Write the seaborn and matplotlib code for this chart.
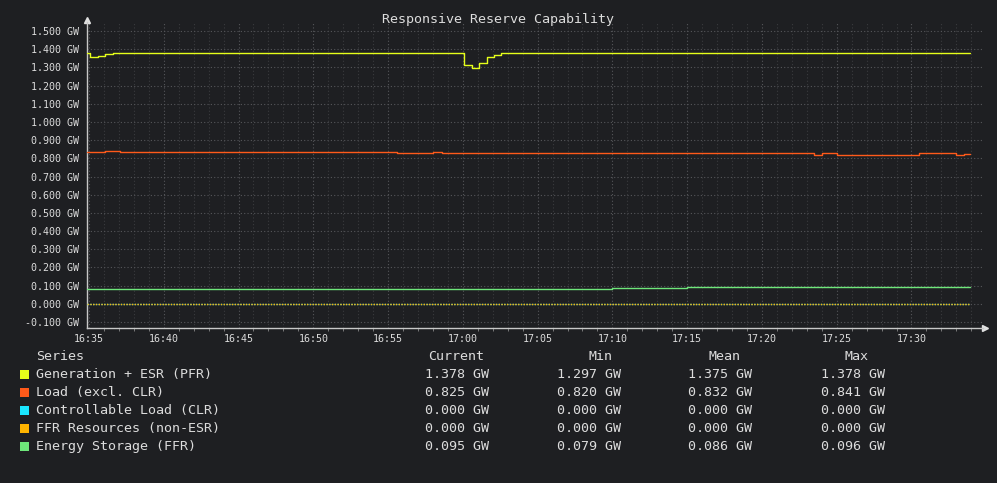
import pandas as pd
import matplotlib
matplotlib.use("Agg")
import matplotlib.pyplot as plt
import matplotlib.dates as mdates
from matplotlib.ticker import MultipleLocator, FuncFormatter
from matplotlib.patches import Rectangle
import seaborn as sns

DAY = "2024-01-01 "

series_names = ["Generation + ESR (PFR)", "Load (excl. CLR)", "Controllable Load (CLR)",
                "FFR Resources (non-ESR)", "Energy Storage (FFR)"]
series_colors = ["#e6ff1a", "#ff5a1a", "#1ae6ff", "#ffb400", "#6ee67a"]

gen_times = ["16:34:52", "16:35:05", "16:35:35", "16:36:05", "16:36:35", "17:00:05", "17:00:35",
             "17:01:05", "17:01:35", "17:02:05", "17:02:35", "17:33:55"]
gen_values = [1.378, 1.357, 1.361, 1.372, 1.378, 1.313, 1.297, 1.322, 1.355, 1.366, 1.378, 1.378]

load_times = ["16:34:52", "16:36:05", "16:37:05", "16:55:35", "16:58:00", "16:58:35", "17:08:00",
              "17:09:00", "17:12:00", "17:23:30", "17:24:00", "17:25:00", "17:30:30", "17:33:00",
              "17:33:30", "17:33:55"]
load_values = [0.837, 0.841, 0.837, 0.832, 0.837, 0.832, 0.827, 0.832, 0.828, 0.821, 0.828, 0.821,
               0.828, 0.820, 0.825, 0.825]

clr_times = ["16:34:52", "17:33:55"]
clr_values = [0.0, 0.0]

ffr_times = ["16:34:52", "17:33:55"]
ffr_values = [0.0, 0.0]

esr_times = ["16:34:52", "16:35:05", "16:40:00", "17:10:00", "17:15:00", "17:33:55"]
esr_values = [0.084, 0.079, 0.084, 0.089, 0.095, 0.095]

stat_headers = ["Current", "Min", "Mean", "Max"]
stat_current = ["1.378 GW", "0.825 GW", "0.000 GW", "0.000 GW", "0.095 GW"]
stat_min = ["1.297 GW", "0.820 GW", "0.000 GW", "0.000 GW", "0.079 GW"]
stat_mean = ["1.375 GW", "0.832 GW", "0.000 GW", "0.000 GW", "0.086 GW"]
stat_max = ["1.378 GW", "0.841 GW", "0.000 GW", "0.000 GW", "0.096 GW"]

all_times = [gen_times, load_times, clr_times, ffr_times, esr_times]
all_values = [gen_values, load_values, clr_values, ffr_values, esr_values]

frames = []
for name, t, v in zip(series_names, all_times, all_values):
    frames.append(pd.DataFrame({"time": pd.to_datetime([DAY + s for s in t]), "value": v, "series": name}))
df = pd.concat(frames, ignore_index=True)

BG = "#1e1f22"
TXT = "#dcdcdc"

sns.set_theme(style="dark")
plt.rcParams["font.family"] = ["DejaVu Sans Mono", "DejaVu Sans"]

W, H = 997, 483
fig = plt.figure(figsize=(W / 100, H / 100), dpi=100, facecolor=BG)
ax = fig.add_axes([87 / W, 1 - 328 / H, (983 - 87) / W, (328 - 22) / H])
ax.set_facecolor(BG)

# zero-valued series go first; same dot pattern so amber fully covers cyan
draw_order = [2, 3, 4, 1, 0]
for i in draw_order:
    sub = df[df["series"] == series_names[i]]
    ls = (0, (1, 1)) if i in (2, 3) else "-"
    sns.lineplot(data=sub, x="time", y="value", color=series_colors[i], drawstyle="steps-post",
                 estimator=None, linewidth=1.0, linestyle=ls, ax=ax, legend=False, zorder=3)

ax.set_xlim(pd.Timestamp(DAY + "16:34:52"), pd.Timestamp(DAY + "17:34:47"))
ax.set_ylim(-0.133, 1.55)

ax.xaxis.set_major_locator(mdates.MinuteLocator(byminute=range(0, 60, 5)))
ax.xaxis.set_minor_locator(mdates.MinuteLocator())
ax.xaxis.set_major_formatter(mdates.DateFormatter("%H:%M"))
ax.yaxis.set_major_locator(MultipleLocator(0.1))
ax.yaxis.set_major_formatter(FuncFormatter(lambda v, p: f"{v:.3f} GW"))

ax.grid(True, which="major", color="#55565a", linestyle=(0, (1, 2)), linewidth=0.8)
ax.grid(True, which="minor", axis="x", color="#3a3b3e", linestyle=(0, (1, 2)), linewidth=0.8)
ax.set_xlabel("")
ax.set_ylabel("")

for side in ["top", "right"]:
    ax.spines[side].set_visible(False)
for side in ["left", "bottom"]:
    ax.spines[side].set_color("#c8c8c8")
    ax.spines[side].set_linewidth(1.0)

ax.tick_params(axis="both", which="major", colors="#c8c8c8", labelcolor=TXT, labelsize=7.2,
               length=3, width=0.8, direction="out")
ax.tick_params(axis="x", which="minor", colors="#888888", length=2, width=0.6, bottom=True)
ax.tick_params(axis="y", pad=3)
ax.tick_params(axis="x", pad=1)

ax.plot(1.002, 0, marker=">", color="#e0e0e0", markersize=4, transform=ax.transAxes, clip_on=False)
ax.plot(0, 1.006, marker="^", color="#e0e0e0", markersize=4, transform=ax.transAxes, clip_on=False)

fig.text(498 / W, 1 - 19 / H, "Responsive Reserve Capability", ha="center", va="center",
         color=TXT, fontsize=9.6)

# legend table under the graph
def fy(py):
    return 1 - py / H

fig.text(36 / W, fy(356.5), "Series", ha="left", va="center", color=TXT, fontsize=9.6)
for hdr, cx in zip(stat_headers, [456, 600, 724, 856]):
    fig.text(cx / W, fy(356.5), hdr, ha="center", va="center", color=TXT, fontsize=9.6)

for r, name in enumerate(series_names):
    py = 374.5 + r * 18
    fig.patches.append(Rectangle((20 / W, fy(py + 4.5)), 9 / W, 9 / H, transform=fig.transFigure,
                                 facecolor=series_colors[r], edgecolor="none"))
    fig.text(36 / W, fy(py), name, ha="left", va="center", color=TXT, fontsize=9.6)
    for col, x0 in zip([stat_current, stat_min, stat_mean, stat_max], [425, 557, 688, 821]):
        fig.text(x0 / W, fy(py), col[r], ha="left", va="center", color=TXT, fontsize=9.6)

fig.savefig("out.png", dpi=100, facecolor=BG)
